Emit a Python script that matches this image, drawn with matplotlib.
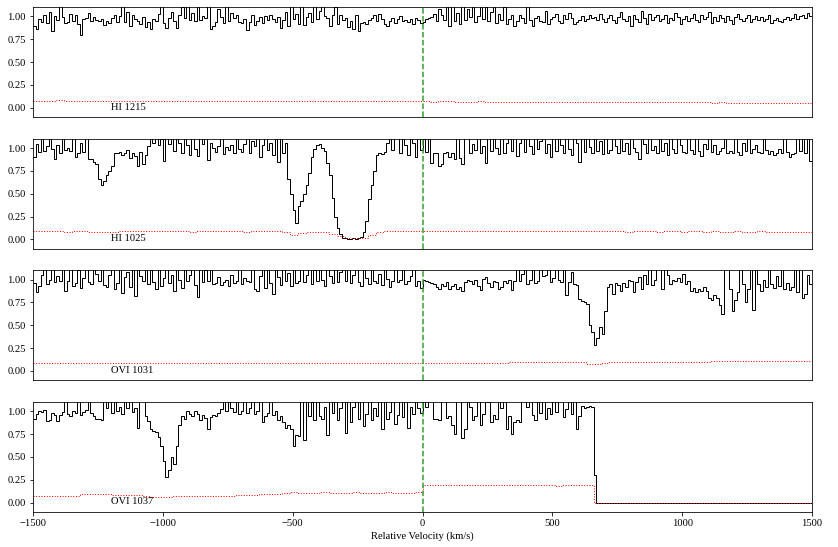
import numpy as np
import matplotlib.pyplot as plt

plt.rcParams['font.family'] = ['Liberation Serif', 'DejaVu Serif']
plt.rcParams['font.size'] = 10.5

# velocity window and pixel sizes (km/s)
vmin, vmax = -1500, 1500
flux_dv = 10
err_dv = 30

labels = ['HI 1215', 'HI 1025', 'OVI 1031', 'OVI 1037']

# normalised flux, one value per 10 km/s pixel starting at -1500
flux_hi1215 = [
    0.90, 0.86, 0.97, 0.94, 1.02, 0.93, 1.05, 0.84, 1.00, 0.96, 1.12, 0.99, 0.93, 0.94, 1.03, 0.95, 1.01, 0.92, 0.80, 0.97,
    0.98, 1.04, 0.95, 0.99, 0.96, 0.95, 0.97, 0.91, 0.95, 0.93, 0.98, 1.02, 0.94, 1.00, 1.13, 0.94, 1.05, 0.90, 1.02, 0.97,
    0.95, 0.92, 0.99, 0.88, 0.94, 0.86, 0.97, 0.95, 1.03, 1.12, 0.93, 0.87, 0.98, 1.05, 0.95, 0.87, 1.02, 1.10, 0.98, 1.12,
    0.96, 1.04, 0.95, 1.12, 0.96, 1.00, 0.98, 1.13, 0.86, 0.90, 0.94, 1.08, 0.99, 0.93, 1.12, 0.95, 1.04, 0.98, 1.02, 0.94,
    0.93, 0.97, 0.85, 0.94, 1.01, 0.91, 0.95, 0.99, 0.93, 1.00, 0.96, 1.02, 0.97, 0.94, 0.99, 0.87, 0.96, 1.05, 0.90, 1.12,
    0.97, 1.03, 0.92, 1.12, 0.91, 0.99, 1.04, 0.94, 1.12, 0.97, 1.06, 1.12, 1.00, 0.98, 0.90, 1.01, 1.10, 0.92, 1.02, 0.96,
    0.98, 0.88, 0.95, 0.86, 1.02, 0.84, 0.93, 0.94, 0.92, 0.96, 0.98, 1.01, 0.95, 1.03, 0.97, 0.92, 0.90, 0.95, 0.98, 0.93,
    0.97, 1.00, 0.95, 0.96, 0.94, 0.97, 0.92, 0.98, 0.96, 0.93, 0.94, 0.97, 0.98, 0.99, 1.03, 0.95, 1.08, 1.02, 0.96, 1.12,
    0.90, 1.12, 0.95, 1.04, 0.92, 1.13, 0.96, 1.08, 0.99, 1.12, 0.94, 1.00, 1.12, 0.97, 1.10, 0.95, 1.05, 1.12, 0.93, 1.03,
    0.96, 1.10, 0.92, 0.97, 1.01, 0.89, 0.95, 1.02, 0.98, 0.93, 1.12, 0.96, 0.89, 0.98, 1.00, 0.95, 0.94, 1.06, 0.92, 0.97,
    0.99, 1.03, 0.95, 0.93, 1.01, 0.97, 1.04, 0.98, 0.92, 0.94, 0.96, 1.00, 0.95, 0.97, 1.02, 0.98, 0.99, 0.96, 1.03, 0.97,
    0.94, 0.98, 1.01, 0.96, 0.93, 0.99, 1.05, 0.97, 0.95, 1.00, 0.89, 1.02, 0.97, 0.94, 1.06, 0.98, 0.92, 1.03, 0.96, 0.99,
    1.02, 0.95, 0.97, 1.01, 0.93, 0.98, 0.96, 1.04, 0.99, 0.92, 0.97, 1.00, 0.95, 0.98, 1.03, 0.96, 0.94, 1.01, 0.97, 0.99,
    1.05, 0.93, 0.99, 0.95, 1.02, 0.98, 0.94, 1.00, 0.96, 0.92, 0.99, 1.03, 0.97, 0.95, 0.98, 1.01, 0.94, 0.97, 1.00, 0.96,
    0.99, 0.95, 0.97, 1.02, 0.93, 0.96, 0.98, 0.95, 0.94, 0.97, 0.99, 0.96, 0.98, 1.03, 0.97, 1.00, 1.02, 0.98, 1.04, 1.00,
]
flux_hi1025 = [
    0.90, 1.04, 0.96, 1.12, 0.97, 1.02, 1.12, 0.99, 0.88, 1.03, 0.95, 1.12, 0.98, 1.00, 0.97, 1.12, 0.90, 0.94, 1.05, 0.96,
    1.12, 0.88, 0.88, 0.85, 0.82, 0.66, 0.60, 0.64, 0.71, 0.75, 0.80, 0.95, 0.94, 0.96, 0.92, 0.95, 0.98, 0.89, 0.95, 0.91,
    0.80, 0.96, 0.82, 0.92, 1.02, 1.12, 1.05, 1.12, 1.03, 1.10, 0.86, 1.12, 1.04, 1.12, 0.97, 1.12, 1.06, 0.94, 1.12, 1.03,
    0.92, 1.12, 0.99, 0.91, 1.12, 1.04, 1.12, 0.87, 1.05, 1.00, 0.96, 1.02, 1.12, 0.93, 1.01, 0.98, 1.03, 0.95, 1.12, 0.99,
    0.96, 1.04, 1.12, 0.94, 1.08, 1.02, 1.12, 0.90, 1.03, 1.12, 0.98, 1.05, 0.92, 1.12, 0.85, 1.12, 0.95, 1.05, 0.66, 0.50,
    0.32, 0.18, 0.36, 0.42, 0.50, 0.60, 0.73, 0.90, 0.99, 1.03, 1.04, 1.00, 0.97, 0.84, 0.70, 0.45, 0.25, 0.12, 0.06, 0.02,
    0.01, 0.00, 0.00, 0.01, 0.00, 0.01, 0.03, 0.08, 0.20, 0.44, 0.60, 0.75, 0.92, 0.95, 0.93, 0.96, 1.05, 1.12, 0.98, 1.12,
    1.12, 0.95, 1.12, 1.03, 0.92, 1.12, 1.05, 0.90, 1.12, 0.98, 1.10, 0.96, 1.12, 0.84, 0.94, 0.95, 0.80, 0.82, 0.94, 0.96,
    0.90, 0.95, 0.88, 1.12, 0.89, 0.83, 1.12, 1.12, 0.95, 1.04, 0.98, 1.12, 0.94, 1.02, 0.84, 1.12, 0.97, 1.12, 1.00, 0.93,
    1.12, 0.95, 1.05, 1.12, 0.97, 1.12, 0.91, 1.06, 1.12, 0.96, 1.12, 1.02, 0.93, 1.12, 0.99, 1.08, 1.12, 0.95, 1.04, 0.90,
    1.12, 0.97, 1.12, 1.03, 0.94, 1.12, 0.99, 0.92, 1.12, 1.05, 0.85, 1.12, 0.96, 1.12, 1.01, 0.94, 1.12, 0.97, 1.08, 0.93,
    1.12, 0.95, 0.98, 1.12, 1.02, 0.94, 1.12, 0.97, 1.05, 0.93, 1.12, 1.00, 0.96, 0.88, 1.12, 1.04, 0.95, 1.12, 0.98, 1.02,
    0.95, 1.12, 0.97, 1.05, 0.92, 1.12, 0.99, 0.95, 1.12, 1.03, 0.96, 0.94, 1.12, 0.98, 0.93, 1.12, 0.97, 0.91, 1.04, 0.99,
    1.12, 0.96, 1.03, 0.93, 0.97, 1.00, 1.12, 0.95, 0.97, 0.94, 1.12, 0.96, 0.92, 1.05, 0.97, 1.12, 0.95, 0.99, 1.03, 0.96,
    0.94, 1.12, 0.98, 0.93, 0.97, 0.92, 0.95, 0.99, 0.94, 1.12, 0.96, 0.90, 0.93, 0.95, 1.12, 0.97, 1.12, 0.94, 1.12, 0.86,
]
flux_ovi1031 = [
    0.96, 0.86, 0.93, 1.05, 1.12, 0.95, 1.00, 1.12, 0.97, 1.04, 0.98, 1.12, 0.87, 0.99, 1.12, 0.93, 0.96, 1.10, 0.91, 1.02,
    1.12, 0.97, 0.95, 1.12, 1.06, 0.99, 1.12, 0.94, 0.92, 1.05, 1.12, 0.90, 0.96, 1.12, 0.85, 1.03, 1.08, 0.92, 1.12, 0.82,
    1.12, 1.04, 0.99, 1.12, 0.95, 1.10, 0.97, 0.90, 1.12, 0.93, 1.02, 1.12, 0.96, 1.05, 0.88, 1.12, 1.00, 0.91, 1.12, 0.98,
    1.05, 1.12, 0.94, 0.81, 1.12, 0.97, 1.10, 0.99, 1.12, 0.95, 0.96, 1.03, 0.94, 0.97, 1.00, 0.93, 1.05, 0.96, 0.99, 1.12,
    0.95, 1.02, 0.98, 0.97, 1.12, 0.90, 0.88, 1.04, 1.12, 0.91, 1.12, 0.96, 0.84, 1.12, 1.03, 0.94, 1.12, 0.98, 1.07, 0.93,
    1.12, 0.96, 0.99, 1.12, 0.97, 1.05, 1.12, 0.95, 1.10, 0.98, 1.12, 1.00, 0.93, 1.12, 1.04, 0.96, 1.12, 0.97, 1.08, 1.12,
    0.99, 1.12, 0.96, 1.05, 1.12, 0.97, 0.93, 1.12, 1.02, 0.95, 1.12, 0.98, 0.96, 1.06, 0.94, 1.12, 1.01, 0.92, 0.98, 1.12,
    0.97, 1.00, 1.12, 0.95, 0.98, 1.04, 1.12, 0.93, 0.99, 0.91, 1.00, 0.98, 0.97, 0.96, 0.95, 0.92, 0.90, 0.95, 0.93, 0.97,
    0.90, 0.93, 0.95, 0.90, 0.92, 0.88, 0.97, 1.00, 0.98, 0.95, 1.00, 0.93, 0.89, 1.01, 1.03, 0.96, 0.92, 0.99, 0.97, 0.90,
    0.92, 0.99, 0.96, 1.00, 0.89, 0.98, 1.12, 0.99, 1.06, 1.12, 0.95, 1.00, 1.12, 0.96, 0.98, 1.12, 1.04, 1.05, 1.12, 0.97,
    1.02, 1.12, 1.00, 0.97, 1.12, 0.83, 0.97, 1.08, 0.95, 0.94, 0.79, 0.77, 0.76, 0.73, 0.50, 0.43, 0.28, 0.36, 0.48, 0.41,
    0.66, 0.92, 0.95, 0.84, 0.96, 0.94, 0.87, 0.96, 0.92, 1.00, 0.98, 0.86, 0.97, 1.03, 0.90, 1.05, 0.95, 1.12, 0.94, 1.00,
    1.12, 1.12, 0.90, 1.12, 1.05, 0.95, 1.00, 0.98, 1.02, 0.97, 1.06, 0.95, 0.99, 0.88, 0.91, 0.86, 0.90, 0.88, 0.92, 0.88,
    0.80, 0.78, 0.83, 0.80, 0.72, 0.62, 1.12, 1.12, 0.90, 0.66, 0.78, 0.86, 1.12, 0.95, 0.75, 0.90, 1.12, 0.67, 1.12, 0.95,
    0.88, 1.00, 0.92, 1.12, 0.95, 0.91, 1.04, 0.93, 1.12, 0.90, 0.96, 0.89, 0.92, 1.12, 0.86, 1.12, 0.80, 0.84, 1.05, 0.95,
]
flux_ovi1037 = [
    0.92, 0.97, 1.00, 0.99, 1.01, 0.89, 0.90, 0.98, 0.96, 0.89, 0.96, 0.99, 1.12, 0.97, 0.95, 1.00, 0.98, 1.12, 0.96, 0.99,
    1.01, 1.12, 0.98, 0.95, 0.91, 0.91, 0.90, 1.12, 1.03, 1.12, 0.98, 1.12, 1.00, 1.05, 0.97, 1.12, 1.03, 1.12, 0.99, 1.04,
    0.82, 1.12, 1.12, 0.95, 0.89, 0.80, 0.78, 0.77, 0.72, 0.62, 0.45, 0.28, 0.36, 0.50, 0.42, 0.62, 0.85, 0.95, 0.92, 1.00,
    0.97, 0.95, 1.00, 0.97, 0.90, 0.96, 0.93, 0.81, 0.94, 0.96, 0.95, 0.98, 1.02, 1.12, 1.00, 1.12, 1.03, 0.99, 1.12, 0.97,
    1.00, 1.12, 0.98, 1.04, 1.12, 0.97, 1.00, 1.12, 0.88, 0.95, 0.98, 1.12, 0.96, 1.00, 0.90, 0.95, 0.88, 0.82, 0.85, 0.80,
    0.62, 0.74, 0.73, 1.12, 0.68, 1.12, 0.95, 1.10, 0.90, 1.12, 0.95, 0.92, 1.05, 0.74, 1.12, 0.98, 1.12, 0.90, 1.03, 1.12,
    0.76, 1.12, 0.88, 1.05, 1.12, 0.92, 1.12, 0.84, 0.97, 1.12, 0.90, 1.03, 0.95, 1.12, 0.80, 1.12, 0.92, 0.99, 1.12, 0.86,
    0.96, 1.12, 0.94, 1.12, 0.82, 1.05, 0.97, 1.12, 1.03, 0.98, 1.12, 1.05, 1.12, 1.12, 0.91, 0.91, 0.90, 1.12, 1.12, 0.93,
    0.95, 0.85, 0.75, 1.12, 1.12, 0.71, 0.80, 1.12, 1.05, 0.90, 0.95, 1.12, 0.85, 0.97, 1.12, 1.10, 0.88, 0.96, 0.92, 1.12,
    1.03, 1.12, 0.80, 0.95, 0.75, 0.88, 0.90, 0.88, 1.12, 1.12, 1.05, 1.12, 0.96, 0.90, 1.12, 0.98, 1.12, 0.92, 1.04, 0.97,
    1.12, 0.99, 1.12, 1.12, 0.94, 1.02, 1.12, 0.97, 1.12, 0.81, 0.95, 1.06, 1.04, 1.05, 1.06, 1.05, 0.30, 0.00, 0.00, 0.00,
    0.00, 0.00, 0.00, 0.00, 0.00, 0.00, 0.00, 0.00, 0.00, 0.00, 0.00, 0.00, 0.00, 0.00, 0.00, 0.00, 0.00, 0.00, 0.00, 0.00,
    0.00, 0.00, 0.00, 0.00, 0.00, 0.00, 0.00, 0.00, 0.00, 0.00, 0.00, 0.00, 0.00, 0.00, 0.00, 0.00, 0.00, 0.00, 0.00, 0.00,
    0.00, 0.00, 0.00, 0.00, 0.00, 0.00, 0.00, 0.00, 0.00, 0.00, 0.00, 0.00, 0.00, 0.00, 0.00, 0.00, 0.00, 0.00, 0.00, 0.00,
    0.00, 0.00, 0.00, 0.00, 0.00, 0.00, 0.00, 0.00, 0.00, 0.00, 0.00, 0.00, 0.00, 0.00, 0.00, 0.00, 0.00, 0.00, 0.00, 0.00,
]

# 1-sigma error, one value per 30 km/s block starting at -1500
err_hi1215 = [
    0.078, 0.079, 0.078, 0.080, 0.079, 0.077, 0.078, 0.078, 0.076, 0.077,
    0.078, 0.077, 0.076, 0.077, 0.076, 0.075, 0.076, 0.077, 0.075, 0.076,
    0.075, 0.074, 0.075, 0.076, 0.074, 0.073, 0.074, 0.075, 0.073, 0.074,
    0.073, 0.072, 0.074, 0.073, 0.072, 0.071, 0.072, 0.073, 0.071, 0.072,
    0.071, 0.070, 0.071, 0.072, 0.070, 0.069, 0.070, 0.071, 0.069, 0.070,
    0.069, 0.068, 0.069, 0.070, 0.068, 0.067, 0.068, 0.069, 0.067, 0.066,
    0.067, 0.066, 0.065, 0.066, 0.065, 0.064, 0.065, 0.066, 0.064, 0.063,
    0.064, 0.063, 0.062, 0.063, 0.062, 0.061, 0.062, 0.061, 0.060, 0.061,
    0.060, 0.059, 0.060, 0.059, 0.058, 0.059, 0.058, 0.057, 0.058, 0.057,
    0.056, 0.057, 0.056, 0.055, 0.056, 0.055, 0.054, 0.055, 0.054, 0.055,
]
err_hi1025 = [
    0.088, 0.087, 0.089, 0.088, 0.086, 0.087, 0.088, 0.085, 0.078, 0.080,
    0.086, 0.088, 0.087, 0.089, 0.088, 0.087, 0.088, 0.089, 0.087, 0.088,
    0.086, 0.087, 0.088, 0.089, 0.088, 0.087, 0.088, 0.086, 0.087, 0.088,
    0.089, 0.087, 0.084, 0.050, 0.072, 0.085, 0.086, 0.080, 0.062, 0.035,
    0.020, 0.012, 0.018, 0.050, 0.080, 0.088, 0.089, 0.088, 0.090, 0.089,
    0.088, 0.089, 0.090, 0.088, 0.089, 0.090, 0.088, 0.089, 0.088, 0.090,
    0.089, 0.088, 0.087, 0.089, 0.088, 0.089, 0.090, 0.088, 0.087, 0.089,
    0.088, 0.087, 0.088, 0.089, 0.087, 0.088, 0.086, 0.087, 0.088, 0.087,
    0.086, 0.088, 0.087, 0.086, 0.087, 0.088, 0.086, 0.087, 0.085, 0.086,
    0.087, 0.085, 0.086, 0.087, 0.085, 0.086, 0.085, 0.086, 0.085, 0.086,
]
err_ovi1031 = [
    0.088, 0.089, 0.090, 0.088, 0.089, 0.091, 0.090, 0.089, 0.088, 0.090,
    0.091, 0.090, 0.089, 0.090, 0.088, 0.089, 0.090, 0.091, 0.089, 0.088,
    0.090, 0.089, 0.088, 0.090, 0.089, 0.087, 0.088, 0.089, 0.090, 0.088,
    0.089, 0.088, 0.087, 0.089, 0.088, 0.090, 0.089, 0.088, 0.087, 0.088,
    0.089, 0.088, 0.087, 0.088, 0.089, 0.088, 0.087, 0.088, 0.089, 0.088,
    0.087, 0.088, 0.089, 0.088, 0.087, 0.088, 0.089, 0.088, 0.087, 0.089,
    0.090, 0.094, 0.095, 0.094, 0.095, 0.096, 0.095, 0.094, 0.095, 0.094,
    0.093, 0.078, 0.072, 0.092, 0.094, 0.095, 0.094, 0.095, 0.096, 0.095,
    0.094, 0.095, 0.096, 0.095, 0.094, 0.095, 0.096, 0.108, 0.110, 0.111,
    0.110, 0.109, 0.111, 0.110, 0.111, 0.112, 0.110, 0.111, 0.110, 0.109,
]
err_ovi1037 = [
    0.073, 0.072, 0.074, 0.073, 0.072, 0.073, 0.090, 0.092, 0.091, 0.089,
    0.085, 0.083, 0.080, 0.078, 0.075, 0.062, 0.058, 0.065, 0.073, 0.072,
    0.073, 0.074, 0.073, 0.072, 0.073, 0.074, 0.085, 0.086, 0.088, 0.090,
    0.093, 0.095, 0.110, 0.111, 0.110, 0.109, 0.110, 0.111, 0.110, 0.109,
    0.110, 0.111, 0.110, 0.109, 0.110, 0.111, 0.110, 0.109, 0.110, 0.111,
    0.195, 0.192, 0.190, 0.191, 0.189, 0.190, 0.188, 0.190, 0.189, 0.188,
    0.190, 0.188, 0.187, 0.189, 0.188, 0.187, 0.188, 0.186, 0.187, 0.188,
    0.189, 0.190, 0.000, 0.000, 0.000, 0.000, 0.000, 0.000, 0.000, 0.000,
    0.000, 0.000, 0.000, 0.000, 0.000, 0.000, 0.000, 0.000, 0.000, 0.000,
    0.000, 0.000, 0.000, 0.000, 0.000, 0.000, 0.000, 0.000, 0.000, 0.000,
]

fluxes = [flux_hi1215, flux_hi1025, flux_ovi1031, flux_ovi1037]
errors = [err_hi1215, err_hi1025, err_ovi1031, err_ovi1037]

fig, axes = plt.subplots(4, 1, sharex=True, figsize=(838 / 72, 547 / 72), dpi=72)
fig.subplots_adjust(left=0.0394, right=0.969, top=0.9867, bottom=0.0645, hspace=0.2)

for ax, lab, flux, err in zip(axes, labels, fluxes, errors):
    assert len(flux) * flux_dv == vmax - vmin, lab
    assert len(err) * err_dv == vmax - vmin, lab
    flux_edges = vmin + flux_dv * np.arange(len(flux) + 1)
    err_edges = vmin + err_dv * np.arange(len(err) + 1)
    ax.stairs(flux, flux_edges, baseline=None, color='k', lw=1)
    ax.stairs(err, err_edges, baseline=None, color='red', ls=':', lw=1)
    ax.axvline(0, color='C2', ls='--', lw=1.5)
    ax.text(-1200, -0.02, lab)
    ax.set_xlim(vmin, vmax)
    ax.set_ylim(-0.1, 1.1)
    ax.set_yticks([0, 0.25, 0.5, 0.75, 1.0])

# only the bottom panel carries the velocity axis
for ax in axes[:-1]:
    ax.tick_params(axis='x', bottom=False, labelbottom=False)

axes[-1].set_xticks([-1500, -1000, -500, 0, 500, 1000, 1500])
axes[-1].set_xlabel('Relative Velocity (km/s)')

fig.savefig('out.png', dpi=72)
